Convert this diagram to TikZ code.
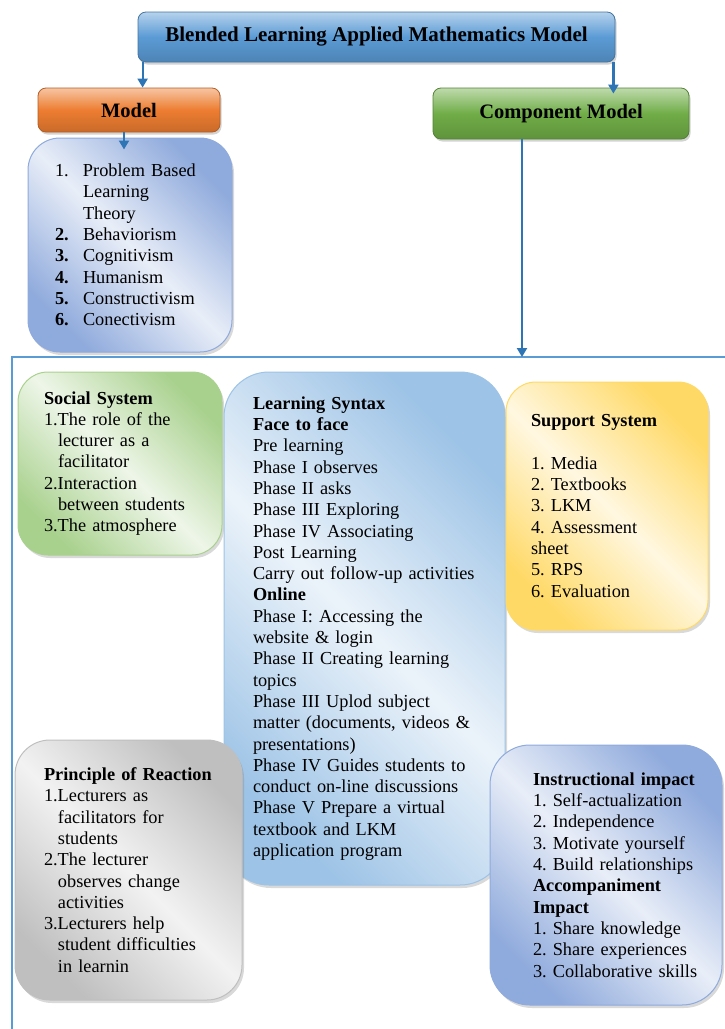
\documentclass[tikz,border=0pt]{standalone}
\usepackage{fontspec}
\setmainfont{Liberation Serif}
\usetikzlibrary{arrows.meta,positioning,shadows,calc}
\frenchspacing

\definecolor{arrowblue}{HTML}{2E75B6}
\definecolor{frameblue}{HTML}{5B9BD5}
\definecolor{titleblue}{HTML}{5B9BD5}
\definecolor{modelorange}{HTML}{ED7D31}
\definecolor{compgreen}{HTML}{70AD47}
\definecolor{listblue}{HTML}{8FAADC}
\definecolor{socialgreen}{HTML}{A9D18E}
\definecolor{syntaxblue}{HTML}{9DC3E6}
\definecolor{supportyellow}{HTML}{FFD966}
\definecolor{reactgray}{HTML}{BFBFBF}

\begin{document}
\begin{tikzpicture}[x=1pt, y=-1pt,
  every node/.style={font=\fontsize{18.3}{21.3}\selectfont},
  hdr/.style={draw=#1!75!black, line width=0.8pt, rounded corners=8pt,
    top color=#1!45!white, bottom color=#1!85!black, middle color=#1,
    font=\fontsize{20.5}{24}\selectfont\bfseries,
    drop shadow={shadow xshift=1.5pt, shadow yshift=-2.5pt, opacity=0.35}},
  panel/.style={draw=#1, line width=1pt, left color=#1, right color=#1,
    middle color=#1!20!white, shading angle=-45, align=left, inner sep=0pt,
    drop shadow={shadow xshift=2pt, shadow yshift=-3pt, opacity=0.3}},
  arr/.style={draw=arrowblue, line width=2.2pt, -{Triangle[length=9pt,width=10pt]}},
  frame/.style={draw=frameblue, line width=2pt}]

\useasboundingbox (0,0) rectangle (725,1029);

% top part
\node[hdr=titleblue, minimum width=477pt, minimum height=50pt, font=\fontsize{21}{24}\selectfont\bfseries] (title) at (376.5,37) {Blended Learning Applied Mathematics Model};
\node[hdr=modelorange, minimum width=182pt, minimum height=44pt] (model) at (129,110) {Model};
\node[hdr=compgreen, minimum width=256pt, minimum height=51pt] (comp) at (561,113.5) {Component Model};

\node[panel=listblue, rounded corners=32pt, text width=204pt, minimum height=214pt] (items) at (130,245) {\leftskip=27pt
  \makebox[28pt][l]{1.}Problem Based\\
  \hspace*{28pt}Learning\\
  \hspace*{28pt}Theory\\
  \makebox[28pt][l]{\bfseries 2.}Behaviorism\\
  \makebox[28pt][l]{\bfseries 3.}Cognitivism\\
  \makebox[28pt][l]{\bfseries 4.}Humanism\\
  \makebox[28pt][l]{\bfseries 5.}Constructivism\\
  \makebox[28pt][l]{\bfseries 6.}Conectivism\par};

\coordinate (frametop) at (12,357);
\draw[frame] (725,357) -- (frametop) -- (12,1029);

% connectors
\draw[arr] (title.south west) ++(5,0) coordinate (t1) -- (t1 |- model.north);
\draw[arr, shorten >=-6pt] (title.south east) ++(-2,0) coordinate (t2) -- (t2 |- comp.north);
\draw[arr, shorten >=-12pt] (model.south) ++(-5,0) coordinate (m1) -- (m1 |- items.north);
\draw[arr] (comp.south) ++(-39,0) coordinate (c1) -- (c1 |- frametop);

% component panels
\node[panel=socialgreen, rounded corners=30pt, text width=204pt, minimum height=183pt] (social) at (120,463.5) {\leftskip=26pt
  \textbf{Social System}\\
  1.The role of the\\
  \hspace*{14pt}lecturer as a\\
  \hspace*{14pt}facilitator\\
  2.Interaction\\
  \hspace*{14pt}between students\\
  3.The atmosphere\par};

\node[panel=syntaxblue, rounded corners=45pt, text width=281pt, minimum height=513pt] (syntax) at (364.5,628.5) {\leftskip=29pt
  \textbf{Learning Syntax}\\
  \textbf{Face to face}\\
  Pre learning\\
  Phase I observes\\
  Phase II asks\\
  Phase III Exploring\\
  Phase IV Associating\\
  Post Learning\\
  Carry out follow-up activities\\
  \textbf{Online}\\
  Phase I: Accessing the\\
  website \& login\\
  Phase II Creating learning\\
  topics\\
  Phase III Uplod subject\\
  matter (documents, videos \&\\
  presentations)\\
  Phase IV Guides students to\\
  conduct on-line discussions\\
  Phase V Prepare a virtual\\
  textbook and LKM\\
  application program\par};

\node[panel=supportyellow, rounded corners=30pt, text width=202pt, minimum height=248pt] (support) at (607,506) {\leftskip=25pt
  \textbf{Support System}\\[21.3pt]
  1. Media\\
  2. Textbooks\\
  3. LKM\\
  4. Assessment\\
  sheet\\
  5. RPS\\
  6. Evaluation\par};

\node[panel=reactgray, rounded corners=35pt, text width=227pt, minimum height=260pt] (react) at (128.5,870) {\leftskip=29pt
  \textbf{Principle of Reaction}\\
  1.Lecturers as\\
  \hspace*{14pt}facilitators for\\
  \hspace*{14pt}students\\
  2.The lecturer\\
  \hspace*{14pt}observes change\\
  \hspace*{14pt}activities\\
  3.Lecturers help\\
  \hspace*{14pt}student difficulties\\
  \hspace*{14pt}in learnin\par};

\node[panel=listblue, rounded corners=40pt, text width=232pt, minimum height=260pt] (impact) at (606,875) {\leftskip=43pt
  \textbf{Instructional impact}\\
  1. Self-actualization\\
  2. Independence\\
  3. Motivate yourself\\
  4. Build relationships\\
  \textbf{Accompaniment}\\
  \textbf{Impact}\\
  1. Share knowledge\\
  2. Share experiences\\
  3. Collaborative skills\par};
\end{tikzpicture}
\end{document}
